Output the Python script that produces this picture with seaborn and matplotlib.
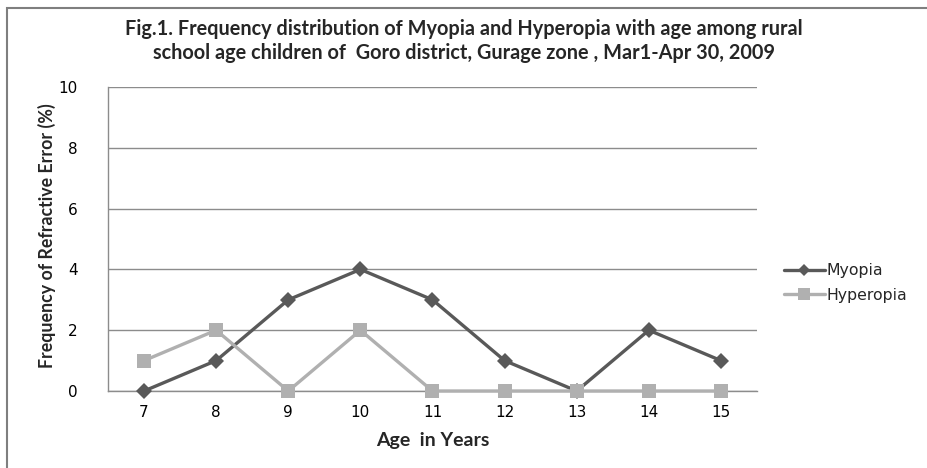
import matplotlib
matplotlib.use("Agg")
import matplotlib.pyplot as plt
import seaborn as sns
import pandas as pd
from matplotlib.patches import Rectangle
from matplotlib.lines import Line2D

ages = [7, 8, 9, 10, 11, 12, 13, 14, 15]
myopia = [0, 1, 3, 4, 3, 1, 0, 2, 1]
hyperopia = [1, 2, 0, 2, 0, 0, 0, 0, 0]
series_names = ["Myopia", "Hyperopia"]
y_ticks = [0, 2, 4, 6, 8, 10]

title = ("Fig.1. Frequency distribution of Myopia and Hyperopia with age among rural\n"
         "school age children of  Goro district, Gurage zone , Mar1-Apr 30, 2009")

df = pd.DataFrame({
    "Age": [str(a) for a in ages] * 2,
    "Value": myopia + hyperopia,
    "Series": [series_names[0]] * len(ages) + [series_names[1]] * len(ages),
})

sns.set_style("white")
plt.rcParams["font.family"] = ["DejaVu Sans"]

fig = plt.figure(figsize=(9.28, 4.68), dpi=100)
ax = fig.add_axes([108 / 928, 1 - 391 / 468, (757 - 108) / 928, (391 - 87) / 468])

colors = {"Myopia": "#595959", "Hyperopia": "#b0b0b0"}
markers = {"Myopia": "D", "Hyperopia": "s"}
sizes = {"Myopia": 8.5, "Hyperopia": 10.5}

for name in ["Myopia", "Hyperopia"]:
    sub = df[df["Series"] == name]
    sns.lineplot(data=sub, x="Age", y="Value", ax=ax, color=colors[name],
                 linewidth=2.4, marker=markers[name], markersize=sizes[name],
                 markeredgewidth=0, sort=False, legend=False, zorder=3,
                 clip_on=False)

ax.set_xlim(-0.5, len(ages) - 0.5)
ax.set_ylim(0, 10)
ax.set_yticks(y_ticks)
ax.set_yticklabels([str(t) for t in y_ticks])
ax.yaxis.grid(True, color="#8c8c8c", linewidth=1)
ax.xaxis.grid(False)
ax.set_axisbelow(True)
for s in ["top", "right"]:
    ax.spines[s].set_visible(False)
for s in ["left", "bottom"]:
    ax.spines[s].set_color("#8c8c8c")
    ax.spines[s].set_linewidth(1)
    ax.spines[s].set_zorder(1)
ax.tick_params(axis="both", length=0, labelsize=11, colors="black")
ax.tick_params(axis="x", pad=10)
ax.tick_params(axis="y", pad=22)

ax.set_xlabel("Age  in Years", family=["Lato", "DejaVu Sans"], fontweight="bold",
              fontsize=14, labelpad=9)
ax.set_ylabel("")
fig.text(47 / 928, 1 - 236 / 468, "Frequency of Refractive Error (%)",
         family=["Lato", "DejaVu Sans"], fontweight="bold", fontsize=12.8,
         rotation=90, ha="center", va="center")

fig.text(464 / 928, 1 - 41 / 468, title, ha="center", va="center",
         family=["Lato", "DejaVu Sans"], fontweight="bold", fontsize=14.3,
         linespacing=1.25)

handles = [Line2D([0], [0], color=colors[n], linewidth=2.4, marker=markers[n],
                  markersize=sizes[n] - 2, markeredgewidth=0) for n in series_names]
fig.legend(handles, series_names, loc="center left",
           bbox_to_anchor=(776 / 928, 1 - 283 / 468), frameon=False,
           fontsize=11.3, handlelength=2.6, handletextpad=0.1, labelspacing=0.6,
           borderpad=0)

fig.patches.append(Rectangle((7 / 928, -0.1), 1.2, 1.1 - 8 / 468,
                             transform=fig.transFigure, fill=False,
                             edgecolor="#7f7f7f", linewidth=1.5, zorder=0))

fig.savefig("out.png", dpi=100)
